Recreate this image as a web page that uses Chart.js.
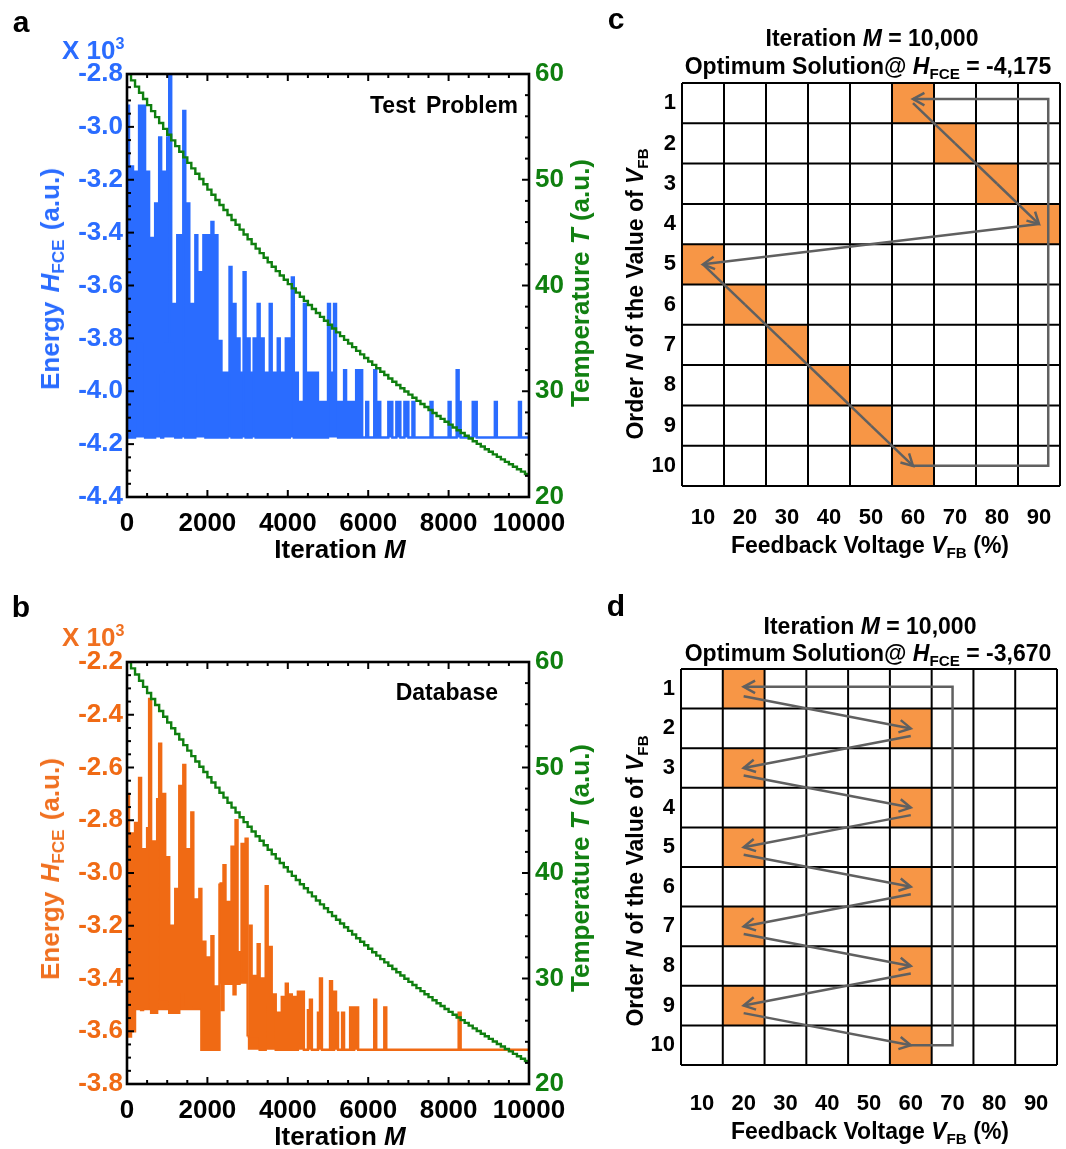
<!DOCTYPE html>
<html>
<head>
<meta charset="utf-8">
<title>Annealing of feedback voltage order</title>
<script src="https://cdn.jsdelivr.net/npm/chart.js@4.4.1/dist/chart.umd.min.js"></script>
<style>
  html, body { margin: 0; padding: 0; background: #fff; }
  #page { position: relative; width: 1066px; height: 1149px; overflow: hidden;
    font-family: "Liberation Sans", Arial, sans-serif; font-weight: bold; color: #000; }
  .box { position: absolute; }
  canvas { display: block; }
  .txt { position: absolute; white-space: nowrap; line-height: 1; transform: translate(-50%, -50%); }
  .rot { transform: translate(-50%, -50%) rotate(-90deg); }
  .right { transform: translate(-100%, -50%); }
  .left { transform: translate(0, -50%); }
  .sub { font-size: 0.66em; position: relative; top: 0.3em; }
  .sup { font-size: 0.62em; position: relative; top: -0.6em; }
  .big { font-size: 26px; }
  .mid { font-size: 23px; }
  .wide { word-spacing: 2px; }
  .letter { font-size: 30px; }
</style>
</head>
<body>
<div id="page">
  <div class="box" style="left:0;top:0"><canvas id="chartA" width="600" height="580"></canvas></div>
  <div class="box" style="left:0;top:588px"><canvas id="chartB" width="600" height="561"></canvas></div>
  <div class="box" style="left:600px;top:0"><canvas id="chartC" width="466" height="580"></canvas></div>
  <div class="box" style="left:600px;top:588px"><canvas id="chartD" width="466" height="561"></canvas></div>

  <!-- panel a -->
  <div class="txt letter" style="left:21px;top:22px">a</div>
  <div class="txt left big" style="left:62px;top:50px;color:#2a6cff">X 10<span class="sup">3</span></div>
  <div class="txt rot big wide" style="left:50px;top:279px;color:#2a6cff">Energy <i>H</i><span class="sub">FCE</span> (a.u.)</div>
  <div class="txt rot big" style="left:580px;top:283px;color:#118011">Temperature <i>T</i> (a.u.)</div>
  <div class="txt big" style="left:340px;top:549px">Iteration <i>M</i></div>
  <div class="txt right mid" style="left:518px;top:105px;word-spacing:4px">Test Problem</div>

  <!-- panel b -->
  <div class="txt letter" style="left:21px;top:607px">b</div>
  <div class="txt left big" style="left:62px;top:637px;color:#f07020">X 10<span class="sup">3</span></div>
  <div class="txt rot big wide" style="left:50px;top:869px;color:#f07020">Energy <i>H</i><span class="sub">FCE</span> (a.u.)</div>
  <div class="txt rot big" style="left:580px;top:868px;color:#118011">Temperature <i>T</i> (a.u.)</div>
  <div class="txt big" style="left:340px;top:1136px">Iteration <i>M</i></div>
  <div class="txt right mid" style="left:498px;top:692px">Database</div>

  <!-- panel c -->
  <div class="txt letter" style="left:616px;top:19px">c</div>
  <div class="txt mid" style="left:872px;top:38px">Iteration <i>M</i> = 10,000</div>
  <div class="txt mid" style="left:868px;top:66px">Optimum Solution@ <i>H</i><span class="sub">FCE</span> = -4,175</div>
  <div class="txt rot mid" style="left:635px;top:294px">Order <i>N</i> of the Value of <i>V</i><span class="sub">FB</span></div>
  <div class="txt mid" style="left:870px;top:545px">Feedback Voltage <i>V</i><span class="sub">FB</span> (%)</div>

  <!-- panel d -->
  <div class="txt letter" style="left:616px;top:606px">d</div>
  <div class="txt mid" style="left:870px;top:626px">Iteration <i>M</i> = 10,000</div>
  <div class="txt mid" style="left:868px;top:653px">Optimum Solution@ <i>H</i><span class="sub">FCE</span> = -3,670</div>
  <div class="txt rot mid" style="left:635px;top:881px">Order <i>N</i> of the Value of <i>V</i><span class="sub">FB</span></div>
  <div class="txt mid" style="left:870px;top:1131px">Feedback Voltage <i>V</i><span class="sub">FB</span> (%)</div>
</div>

<script>
// iterations between samples
const energyStep = 50;
const tempStep = 100;

// temperature staircase (same schedule in a and b)
const tempA = [
  60.00, 59.40, 58.81, 58.22, 57.64, 57.06, 56.49, 55.92, 55.36, 54.81,
  54.26, 53.72, 53.18, 52.65, 52.12, 51.60, 51.08, 50.57, 50.07, 49.57,
  49.07, 48.58, 48.09, 47.61, 47.14, 46.66, 46.20, 45.74, 45.28, 44.82,
  44.38, 43.93, 43.49, 43.06, 42.63, 42.20, 41.78, 41.36, 40.95, 40.54,
  40.13, 39.73, 39.33, 38.94, 38.55, 38.16, 37.78, 37.40, 37.03, 36.66,
  36.29, 35.93, 35.57, 35.21, 34.86, 34.51, 34.17, 33.82, 33.49, 33.15,
  32.82, 32.49, 32.17, 31.84, 31.53, 31.21, 30.90, 30.59, 30.28, 29.98,
  29.68, 29.38, 29.09, 28.80, 28.51, 28.23, 27.94, 27.66, 27.39, 27.11,
  26.84, 26.57, 26.31, 26.05, 25.79, 25.53, 25.27, 25.02, 24.77, 24.52,
  24.28, 24.03, 23.79, 23.56, 23.32, 23.09, 22.86, 22.63, 22.40, 22.18,
  21.96
];

// energy (x10^3), test problem, one value every 50 iterations
const energyA = [
  -2.92, -4.175, -3.15, -4.175, -3.17, -3.81, -2.92, -3.81, -2.92, -4.175,
  -3.17, -4.175, -3.42, -4.175, -3.29, -3.93, -3.04, -4.175, -3.17, -3.81,
  -3.04, -2.80, -3.81, -3.67, -4.175, -3.41, -4.175, -3.41, -2.94, -4.175,
  -3.29, -4.175, -3.67, -4.175, -3.41, -3.93, -3.55, -3.93, -3.41, -4.175,
  -3.41, -4.175, -3.36, -4.175, -3.41, -4.175, -3.81, -4.175, -3.93, -4.175,
  -3.93, -3.53, -4.175, -3.67, -4.175, -3.80, -4.175, -3.93, -3.55, -4.175,
  -3.80, -4.175, -3.93, -3.80, -4.175, -3.67, -4.175, -3.80, -4.175, -3.93,
  -4.175, -3.67, -4.175, -3.93, -4.175, -3.80, -4.175, -3.93, -4.175, -3.80,
  -4.175, -3.80, -3.57, -4.175, -3.93, -4.175, -4.04, -4.175, -3.67, -4.175,
  -3.93, -4.175, -3.93, -4.175, -3.93, -4.175, -4.04, -4.175, -4.04, -4.175,
  -3.67, -3.93, -4.04, -3.67, -4.04, -4.175, -4.04, -4.175, -3.92, -4.175,
  -4.04, -4.175, -4.04, -4.175, -3.92, -4.175, -3.92, -4.175, -4.175, -4.04,
  -4.175, -4.175, -4.175, -3.92, -4.175, -4.04, -4.175, -4.175, -4.175, -4.175,
  -4.04, -4.04, -4.175, -4.175, -4.04, -4.04, -4.175, -4.175, -4.04, -4.04,
  -4.175, -4.175, -4.04, -4.175, -4.175, -4.175, -4.175, -4.175, -4.175, -4.175,
  -4.175, -4.04, -4.175, -4.175, -4.175, -4.175, -4.175, -4.175, -4.175, -4.175,
  -4.04, -4.175, -4.175, -4.175, -3.92, -4.04, -4.175, -4.175, -4.175, -4.175,
  -4.175, -4.175, -4.04, -4.04, -4.175, -4.175, -4.175, -4.175, -4.175, -4.175,
  -4.175, -4.175, -4.175, -4.04, -4.175, -4.175, -4.175, -4.175, -4.175, -4.175,
  -4.175, -4.175, -4.175, -4.175, -4.175, -4.04, -4.175, -4.175, -4.175, -4.175,
  -4.175
];

// energy (x10^3), database, one value every 50 iterations
const energyB = [
  -2.70, -3.62, -2.85, -3.60, -2.81, -3.51, -2.64, -3.52, -2.91, -3.51,
  -2.83, -2.34, -3.53, -2.88, -3.53, -2.72, -2.51, -3.48, -2.70, -3.48,
  -2.94, -3.53, -3.20, -3.53, -3.06, -3.53, -2.67, -3.45, -2.59, -3.50,
  -2.91, -3.50, -2.77, -3.51, -3.10, -3.51, -3.06, -3.67, -3.26, -3.67,
  -3.32, -3.67, -3.24, -3.67, -3.43, -3.67, -3.04, -3.52, -2.97, -3.42,
  -3.11, -3.42, -2.90, -3.46, -2.80, -3.42, -3.30, -2.89, -3.37, -2.87,
  -3.62, -3.20, -3.62, -3.39, -3.62, -3.27, -3.67, -3.40, -3.67, -3.05,
  -3.49, -3.28, -3.49, -3.46, -3.67, -3.53, -3.67, -3.47, -3.67, -3.42,
  -3.67, -3.46, -3.67, -3.47, -3.67, -3.45, -3.60, -3.45, -3.67, -3.67,
  -3.52, -3.48, -3.67, -3.67, -3.67, -3.53, -3.40, -3.67, -3.67, -3.67,
  -3.67, -3.41, -3.67, -3.45, -3.53, -3.67, -3.67, -3.53, -3.67, -3.67,
  -3.67, -3.51, -3.67, -3.51, -3.51, -3.67, -3.67, -3.67, -3.67, -3.67,
  -3.67, -3.67, -3.67, -3.48, -3.67, -3.67, -3.67, -3.67, -3.51, -3.67,
  -3.67, -3.67, -3.67, -3.67, -3.67, -3.67, -3.67, -3.67, -3.67, -3.67,
  -3.67, -3.67, -3.67, -3.67, -3.67, -3.67, -3.67, -3.67, -3.67, -3.67,
  -3.67, -3.67, -3.67, -3.67, -3.67, -3.67, -3.67, -3.67, -3.67, -3.67,
  -3.67, -3.67, -3.67, -3.67, -3.67, -3.53, -3.67, -3.67, -3.67, -3.67,
  -3.67, -3.67, -3.67, -3.67, -3.67, -3.67, -3.67, -3.67, -3.67, -3.67,
  -3.67, -3.67, -3.67, -3.67, -3.67, -3.67, -3.67, -3.67, -3.67, -3.67,
  -3.67, -3.67, -3.67, -3.67, -3.67, -3.67, -3.67, -3.67, -3.67, -3.67,
  -3.67
];

// lower edge of the dense band (x10^3), by sample range
const bandA = [{ from: 0, to: 200, floor: -4.175 }];
const bandB = [
  { from: 0, to: 46, floor: -3.52 },
  { from: 46, to: 60, floor: -3.42 },
  { from: 60, to: 200, floor: -3.67 },
];

// optimum order grids
const vfbTicks = [10, 20, 30, 40, 50, 60, 70, 80, 90];
const orderTicks = [1, 2, 3, 4, 5, 6, 7, 8, 9, 10];
const solutionC = [60, 70, 80, 90, 10, 20, 30, 40, 50, 60];
const solutionD = [20, 60, 20, 60, 20, 60, 20, 60, 20, 60];

const BLUE = "#2a6cff";
const ORANGE = "#f06a14";
const GREEN = "#0f7f0f";
const CELL = "#f79646";
const ARROW = "#606060";

Chart.defaults.font.family = "'Liberation Sans', Arial, sans-serif";

// box around the plot with inward ticks on all four sides
const frame = {
	id: "frame",
	afterDatasetsDraw(chart, args, o) {
		const { ctx, chartArea: a, scales } = chart;
		const seg = (x1, y1, x2, y2) => {
			ctx.beginPath();
			ctx.moveTo(x1, y1);
			ctx.lineTo(x2, y2);
			ctx.stroke();
		};
		ctx.save();
		ctx.strokeStyle = "#000";
		ctx.lineWidth = 2;
		for (let k = 0; k <= 20; k++) {
			const px = scales.x.getPixelForValue(k * 500);
			const len = k % 4 === 0 ? 7 : 4;
			seg(px, a.top, px, a.top + len);
			seg(px, a.bottom, px, a.bottom - len);
		}
		for (let k = 0; k <= 32; k++) {
			const py = scales.yE.getPixelForValue(o.eMin + k * 0.05);
			seg(a.left, py, a.left + (k % 4 === 0 ? 7 : 4), py);
		}
		for (let k = 0; k <= 20; k++) {
			const py = scales.yT.getPixelForValue(20 + k * 2);
			seg(a.right, py, a.right - (k % 5 === 0 ? 7 : 4), py);
		}
		ctx.lineWidth = 2.6;
		ctx.strokeRect(a.left, a.top, a.right - a.left, a.bottom - a.top);
		ctx.restore();
	},
};

// the energy trace is split by band so each piece is shaded down to its own floor
function annealChart(id, energy, bands, color, eMin, eMax, geo) {
	const tickFont = { size: 26, weight: "bold" };
	const pieces = bands.map((b) => ({
		data: energy.slice(b.from, b.to + 1).map((e, k) => ({ x: (b.from + k) * energyStep, y: e })),
		yAxisID: "yE",
		borderColor: color,
		backgroundColor: color,
		borderWidth: 2.4,
		stepped: true,
		pointRadius: 0,
		fill: { value: b.floor },
		order: 1,
	}));
	return new Chart(document.getElementById(id), {
		type: "line",
		data: {
			datasets: [
				{
					data: tempA.map((t, i) => ({ x: i * tempStep, y: t })),
					yAxisID: "yT",
					borderColor: GREEN,
					borderWidth: 2.4,
					stepped: true,
					pointRadius: 0,
					order: 0,
				},
				...pieces,
			],
		},
		options: {
			responsive: false,
			animation: false,
			devicePixelRatio: 1,
			layout: { padding: { top: geo.top, left: 0, right: 0, bottom: 0 } },
			plugins: {
				legend: { display: false },
				tooltip: { enabled: false },
				frame: { eMin: eMin },
			},
			scales: {
				x: {
					type: "linear",
					min: 0,
					max: 10000,
					grid: { display: false, drawTicks: false },
					border: { display: false },
					ticks: {
						stepSize: 2000,
						maxRotation: 0,
						color: "#000",
						padding: 11,
						font: tickFont,
						callback: (v) => String(v),
					},
					afterFit: (s) => {
						s.height = geo.h - geo.bottom;
						s.paddingLeft = 0;
						s.paddingRight = 0;
					},
				},
				yE: {
					position: "left",
					min: eMin,
					max: eMax,
					grid: { display: false, drawTicks: false },
					border: { display: false },
					ticks: {
						stepSize: 0.2,
						padding: 4,
						color: color,
						font: tickFont,
						callback: (v) => v.toFixed(1),
					},
					afterFit: (s) => { s.width = geo.left; },
				},
				yT: {
					position: "right",
					min: 20,
					max: 60,
					grid: { display: false, drawTicks: false },
					border: { display: false },
					ticks: { stepSize: 10, padding: 6, color: GREEN, font: tickFont },
					afterFit: (s) => { s.width = geo.w - geo.right; },
				},
			},
		},
		plugins: [frame],
	});
}

// orange cells, black grid and the grey search path
const cells = {
	id: "cells",
	beforeDatasetsDraw(chart, args, o) {
		const { ctx, scales: { x, y } } = chart;
		ctx.save();
		ctx.fillStyle = CELL;
		o.solution.forEach((v, i) => {
			const x0 = x.getPixelForValue(v - 5), x1 = x.getPixelForValue(v + 5);
			const y0 = y.getPixelForValue(i + 0.5), y1 = y.getPixelForValue(i + 1.5);
			ctx.fillRect(x0, y0, x1 - x0, y1 - y0);
		});
		ctx.strokeStyle = "#000";
		ctx.lineWidth = 2;
		ctx.beginPath();
		for (let k = 0; k <= vfbTicks.length; k++) {
			const px = x.getPixelForValue(vfbTicks[0] - 5 + k * 10);
			ctx.moveTo(px, y.getPixelForValue(0.5));
			ctx.lineTo(px, y.getPixelForValue(10.5));
		}
		for (let k = 0; k <= orderTicks.length; k++) {
			const py = y.getPixelForValue(0.5 + k);
			ctx.moveTo(x.getPixelForValue(5), py);
			ctx.lineTo(x.getPixelForValue(95), py);
		}
		ctx.stroke();
		ctx.restore();
	},
	afterDatasetsDraw(chart, args, o) {
		const { ctx, scales: { x, y } } = chart;
		const P = (vx, vy) => [x.getPixelForValue(vx), y.getPixelForValue(vy)];
		const head = (a, b) => {
			const ang = Math.atan2(b[1] - a[1], b[0] - a[0]);
			const L = 13, phi = 0.5;
			ctx.beginPath();
			ctx.moveTo(b[0] - L * Math.cos(ang - phi), b[1] - L * Math.sin(ang - phi));
			ctx.lineTo(b[0], b[1]);
			ctx.lineTo(b[0] - L * Math.cos(ang + phi), b[1] - L * Math.sin(ang + phi));
			ctx.stroke();
		};
		const sol = o.solution, n = sol.length;
		ctx.save();
		ctx.strokeStyle = ARROW;
		ctx.lineWidth = 2.5;
		ctx.lineJoin = "miter";
		for (let k = 0; k < n - 1; k++) {
			const a = P(sol[k], k + 1 + o.shift);
			const b = P(sol[k + 1], k + 2);
			ctx.beginPath();
			ctx.moveTo(a[0], a[1]);
			ctx.lineTo(b[0], b[1]);
			ctx.stroke();
			const last = k === n - 2;
			if (last || sol[k + 2] - sol[k + 1] !== sol[k + 1] - sol[k]) head(a, b);
		}
		// return loop from the last order back to the first
		const loop = [P(sol[n - 1], n), P(o.loopX, n), P(o.loopX, o.loopTop), P(sol[0], o.loopTop)];
		ctx.beginPath();
		loop.forEach((p, i) => (i ? ctx.lineTo(p[0], p[1]) : ctx.moveTo(p[0], p[1])));
		ctx.stroke();
		head(loop[2], loop[3]);
		ctx.restore();
	},
};

function gridChart(id, solution, geo, path) {
	const tickFont = { size: 22, weight: "bold" };
	return new Chart(document.getElementById(id), {
		type: "scatter",
		data: {
			datasets: [{ data: solution.map((v, i) => ({ x: v, y: i + 1 })), pointRadius: 0 }],
		},
		options: {
			responsive: false,
			animation: false,
			devicePixelRatio: 1,
			layout: { padding: { top: geo.top, left: 0, right: geo.w - geo.right, bottom: 0 } },
			plugins: {
				legend: { display: false },
				tooltip: { enabled: false },
				cells: Object.assign({ solution: solution }, path),
			},
			scales: {
				x: {
					type: "linear",
					min: 5,
					max: 95,
					afterBuildTicks: (s) => { s.ticks = vfbTicks.map((v) => ({ value: v })); },
					grid: { display: false, drawTicks: false },
					border: { display: false },
					ticks: { color: "#000", padding: geo.labelPad, maxRotation: 0, autoSkip: false, font: tickFont, callback: (v) => String(v) },
					afterFit: (s) => {
						s.height = geo.h - geo.bottom;
						s.paddingLeft = 0;
						s.paddingRight = 0;
					},
				},
				y: {
					type: "linear",
					reverse: true,
					min: 0.5,
					max: 10.5,
					afterBuildTicks: (s) => { s.ticks = orderTicks.map((v) => ({ value: v })); },
					grid: { display: false, drawTicks: false },
					border: { display: false },
					ticks: { color: "#000", padding: 6, autoSkip: false, font: tickFont, callback: (v) => String(v) },
					afterFit: (s) => { s.width = geo.left; },
				},
			},
		},
		plugins: [cells],
	});
}

annealChart("chartA", energyA, bandA, BLUE, -4.4, -2.8, { w: 600, h: 580, left: 127, right: 529, top: 74, bottom: 497 });
annealChart("chartB", energyB, bandB, ORANGE, -3.8, -2.2, { w: 600, h: 561, left: 127, right: 529, top: 74, bottom: 496 });
gridChart("chartC", solutionC, { w: 466, h: 580, left: 82, right: 460, top: 83, bottom: 486, labelPad: 19 }, { shift: 0, loopX: 92.2, loopTop: 0.9 });
gridChart("chartD", solutionD, { w: 466, h: 561, left: 81, right: 457, top: 81, bottom: 477, labelPad: 26 }, { shift: 0.19, loopX: 70, loopTop: 0.95 });
</script>
</body>
</html>
